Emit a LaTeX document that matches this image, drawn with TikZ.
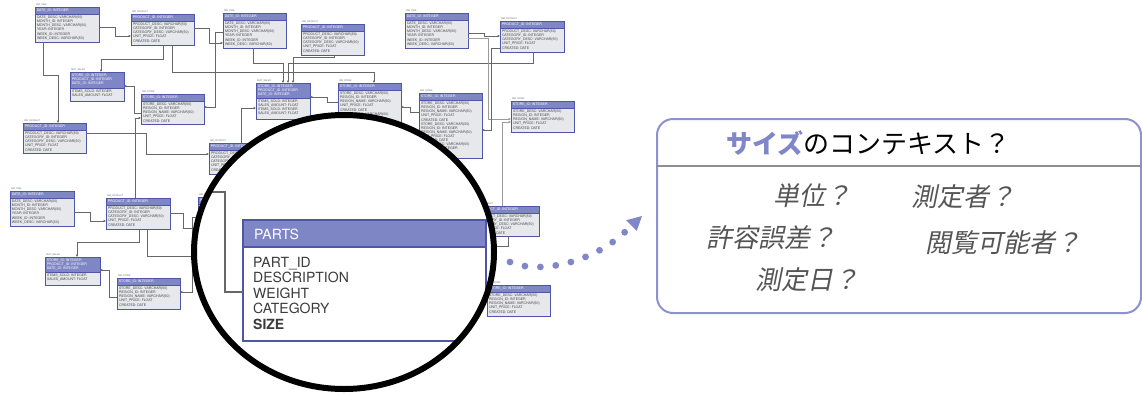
\documentclass[tikz,border=0pt]{standalone}
\usepackage{fontspec}
\usetikzlibrary{calc,shapes.geometric,arrows.meta}
\newfontfamily\hel{TeX Gyre Heros}
\newfontfamily\cjk{Noto Sans CJK JP}
\newfontfamily\cjkit[FakeSlant=0.2]{Noto Sans CJK JP}
\definecolor{hblue}{HTML}{7F86C5}
\definecolor{tborder}{HTML}{4F56A8}
\definecolor{tgray}{HTML}{E7E8EB}
\definecolor{cgray}{HTML}{676767}
\definecolor{lgray}{HTML}{9A9A9A}
\definecolor{dotblue}{HTML}{7F87C9}
\definecolor{boxborder}{HTML}{8C92CF}
\definecolor{divgray}{HTML}{8F8F93}
\definecolor{itemgray}{HTML}{555555}
\definecolor{partstext}{HTML}{3B3B3B}
\newcommand\timebody{DATE\_DESC: VARCHAR(50)\\MONTH\_ID: INTEGER\\MONTH\_DESC: VARCHAR(50)\\YEAR: INTEGER\\WEEK\_ID: INTEGER\\WEEK\_DESC: VARCHAR(50)}
\newcommand\prodbody{PRODUCT\_DESC: VARCHAR(50)\\CATEGORY\_ID: INTEGER\\CATEGORY\_DESC: VARCHAR(50)\\UNIT\_PRICE: FLOAT\\CREATED: DATE}
\newcommand\storebody{STORE\_DESC: VARCHAR(50)\\REGION\_ID: INTEGER\\REGION\_NAME: VARCHAR(50)\\UNIT\_PRICE: FLOAT\\CREATED: DATE}
\newcommand\saleshead{STORE\_ID: INTEGER\\PRODUCT\_ID: INTEGER\\DATE\_ID: INTEGER}
\newcommand\salesbody{ITEMS\_SOLD: INTEGER\\SALES\_AMOUNT: FLOAT}
\newcommand\dbt[9]{%
  \node[tbl, minimum width=#4pt, minimum height=#6pt, anchor=north west] (#1) at (#2,#3) {};
  \filldraw[hdr] (#1.north west) rectangle ($(#1.north east)+(0,#5)$);
  \node[tlab] at (#1.north west) {#7};
  \node[thead] at (#1.north west) {#8};
  \node[tbodytext] at ($(#1.north west)+(0,#5)$) {#9};
}
\tikzset{
  tbl/.style={draw=tborder, fill=tgray, line width=0.7pt, inner sep=0pt, outer sep=0pt},
  hdr/.style={fill=hblue, draw=tborder, line width=0.7pt},
  tlab/.style={anchor=south west, font=\hel\fontsize{2.2}{2.5}\selectfont, text=black!60, inner sep=0.8pt},
  thead/.style={anchor=north west, align=left, font=\hel\fontsize{3.5}{4}\selectfont, text=white, inner sep=1.6pt},
  tbodytext/.style={anchor=north west, align=left, font=\hel\fontsize{3.5}{4.1}\selectfont, text=black!72, inner sep=1.8pt},
  conn/.style={draw=cgray, line width=0.8pt, -{Latex[length=2.4pt,width=2.4pt]}},
  connl/.style={draw=lgray, line width=0.8pt, -{Latex[length=2.4pt,width=2.4pt]}},
  connn/.style={draw=cgray, line width=0.8pt},
  item/.style={anchor=west, inner sep=0pt, font=\cjkit\fontsize{26}{30}\selectfont, text=itemgray},
  dotline/.style={draw=dotblue, line width=6.8pt, line cap=round, dash pattern=on 0pt off 15.5pt},
}
\begin{document}
\begin{tikzpicture}[x=1pt, y=-1pt]
\useasboundingbox (0,0) rectangle (1142,394);
\fill[white] (0,0) rectangle (1142,394);
% ---- background schema ----
\dbt{A}{35}{7}{64}{7}{35}{DIM\_TIME}{DATE\_ID: INTEGER}{\timebody}
\dbt{B}{131}{14}{63}{7}{31}{DIM\_PRODUCT}{PRODUCT\_ID: INTEGER}{\prodbody}
\dbt{C}{223}{13}{63}{7}{35}{DIM\_TIME}{DATE\_ID: INTEGER}{\timebody}
\dbt{D}{301}{24}{63}{7}{31}{DIM\_PRODUCT}{PRODUCT\_ID: INTEGER}{\prodbody}
\dbt{E}{70}{72}{54}{16}{29}{FACT\_SALES}{\saleshead}{\salesbody}
\dbt{F}{141}{94}{63}{7}{30}{DIM\_STORE}{STORE\_ID: INTEGER}{\storebody}
\dbt{G}{23}{123}{63}{7}{30}{DIM\_PRODUCT}{PRODUCT\_ID: INTEGER}{\prodbody}
\dbt{H}{256}{83}{54}{15}{36}{FACT\_SALES}{\saleshead}{\salesbody\\\salesbody}
\dbt{I}{338}{83}{63}{7}{60}{DIM\_STORE}{STORE\_ID: INTEGER}{\storebody\\\storebody}
\dbt{J}{419}{93}{63}{7}{65}{DIM\_STORE}{STORE\_ID: INTEGER}{\storebody\\\storebody\\STORE\_DESC: VARCHAR(50)\\REGION\_ID: INTEGER}
\dbt{K}{511}{101}{63}{7}{31}{DIM\_STORE}{STORE\_ID: INTEGER}{\storebody}
\dbt{L}{209}{143}{63}{7}{31}{DIM\_PRODUCT}{PRODUCT\_ID: INTEGER}{\prodbody}
\dbt{M}{405}{13}{63}{7}{35}{DIM\_TIME}{DATE\_ID: INTEGER}{\timebody}
\dbt{N}{500}{21}{64}{7}{31}{DIM\_PRODUCT}{PRODUCT\_ID: INTEGER}{\prodbody}
\dbt{O}{10}{191}{64}{7}{35}{DIM\_TIME}{DATE\_ID: INTEGER}{\timebody}
\dbt{P}{106}{198}{64}{7}{31}{DIM\_PRODUCT}{PRODUCT\_ID: INTEGER}{\prodbody}
\dbt{Q}{45}{257}{55}{15}{28}{FACT\_SALES}{\saleshead}{\salesbody}
\dbt{R}{117}{278}{63}{7}{31}{DIM\_STORE}{STORE\_ID: INTEGER}{\storebody}
\dbt{S}{198}{197}{63}{7}{31}{DIM\_PRODUCT}{PRODUCT\_ID: INTEGER}{\prodbody}
\dbt{T}{476}{206}{63}{7}{30}{DIM\_PRODUCT}{PRODUCT\_ID: INTEGER}{\prodbody}
\dbt{U}{487}{285}{63}{7}{31}{DIM\_STORE}{STORE\_ID: INTEGER}{\storebody}
% ---- connectors ----
\draw[conn] (A.east|-0,27) -- (115,27) -- (115,36) -- (B.west|-0,36);
\draw[conn] (43,0|-A.south) -- (43,75) -- (58,75) -- (58,0|-G.north);
\draw[conn] (163,0|-B.south) -- (163,59) -- (101,59) -- (101,0|-E.north);
\draw[conn] (172,0|-B.south) -- (172,72) -- (374,72) -- (374,0|-I.north);
\draw[conn] (B.east|-0,28) -- (209,28) -- (209,43) -- (C.west|-0,43);
\draw[conn] (C.west|-0,32) -- (215,32) -- (215,107) -- (F.east|-0,107);
\draw[conn] (253,0|-C.south) -- (253,63) -- (283,63) -- (283,0|-H.north);
\draw[conn] (334,0|-D.south) -- (334,57) -- (293,57) -- (293,0|-H.north);
\draw[conn] (533,0|-N.south) -- (533,63) -- (288,63) -- (288,0|-H.north);
\draw[conn] (F.west|-0,113) -- (134,113) -- (134,86) -- (E.east|-0,86);
\draw[conn] (135,0|-P.north) -- (135,118) -- (F.west|-0,118);
\draw[conn] (G.east|-0,133) -- (146,133) -- (146,154) -- (L.west|-0,154);
\draw[conn] (241,0|-L.north) -- (241,108) -- (H.west|-0,108);
\draw[conn] (I.west|-0,102) -- (327,102) -- (327,97) -- (H.east|-0,97);
\draw[conn] (J.west|-0,112) -- (410,112) -- (410,107) -- (I.east|-0,107);
\draw[conn] (M.east|-0,33) -- (484,33) -- (484,36) -- (N.west|-0,36);
\draw[connl] (M.east|-0,38) -- (488,38) -- (488,119) -- (K.west|-0,119);
\draw[conn] (N.west|-0,48) -- (491,48) -- (491,130) -- (J.east|-0,130);
\draw[connl] (502,0|-T.north) -- (502,122) -- (K.west|-0,122);
\coordinate (tend) at (488,246);
\draw[connn] (508,0|-T.south) -- (508,246) -- (tend);
\draw[conn] (O.east|-0,212) -- (90,212) -- (90,221) -- (P.west|-0,221);
\draw[conn] (139,0|-P.south) -- (139,242) -- (77,242) -- (77,0|-Q.north);
\coordinate (pend1) at (215,256);
\draw[connn] (147,0|-P.south) -- (147,256) -- (pend1);
\draw[connn] (P.east|-0,213) -- (183,213) -- (183,228) -- (S.west|-0,228);
\draw[conn] (S.west|-0,217) -- (192,217) -- (192,292) -- (R.east|-0,292);
\draw[conn] (R.west|-0,297) -- (109,297) -- (109,270) -- (Q.east|-0,270);
% ---- magnifier ----
\fill[white] (344,252) ellipse [x radius=150, y radius=137];
\begin{scope}
  \clip (344,252) ellipse [x radius=150, y radius=137];
  \node[draw=tborder, fill=white, line width=1.6pt, inner sep=0pt, outer sep=0pt,
        minimum width=243pt, minimum height=121pt, anchor=north west] (parts) at (243,220) {};
  \filldraw[fill=hblue, draw=tborder, line width=1.6pt] (parts.north west) rectangle ($(parts.north east)+(0,27)$);
  \node[anchor=west, inner sep=0pt, text=white, font=\hel\fontsize{14}{16}\selectfont] (ptitle) at ($(parts.north west)+(11,14)$) {PARTS};
  \node[anchor=north west, inner sep=0pt, align=left, text=partstext, font=\hel\fontsize{14}{15.5}\selectfont] (pbody) at ($(parts.north west)+(10,37)$) {PART\_ID\\DESCRIPTION\\WEIGHT\\CATEGORY\\\textbf{SIZE}};
  \coordinate (lin) at (190,192);
  \draw[draw=cgray, line width=2pt] (lin) -- (225,192) -- (225,292) -- (parts.west|-0,292);
\end{scope}
\node[ellipse, draw=black, line width=6pt, inner sep=0pt, minimum width=300pt, minimum height=274pt] (lens) at (344,252) {};
% ---- context box ----
\node[draw=boxborder, line width=2pt, rounded corners=16pt, inner sep=0pt,
      minimum width=484pt, minimum height=194pt, anchor=north west] (ctx) at (656,118) {};
\draw[draw=divgray, line width=1.5pt] (ctx.west|-0,166) -- (ctx.east|-0,166);
\node[anchor=west, inner sep=0pt, font=\cjk\fontsize{26}{30}\selectfont] (title) at (726,143)
  {\textcolor{dotblue}{\bfseries サイズ}のコンテキスト？};
\node[item] (q1) at (773,196) {単位？};
\node[item] (q2) at (911,197) {測定者？};
\node[item] (q3) at (706,238) {許容誤差？};
\node[item] (q4) at (925,243) {閲覧可能者？};
\node[item] (q5) at (755,280) {測定日？};
% ---- dotted arrow ----
\coordinate (dA) at ($(lens.east)+(13,10)$);
\coordinate (dB) at (627,230);
\coordinate (tip) at ($(ctx.west)+(-14,0)$);
\draw[dotline] (dA) .. controls (540,275) and (595,262) .. (dB);
\fill[dotblue] (tip) -- (636.7,230.9) -- (626.1,220.3) -- cycle;
\end{tikzpicture}
\end{document}
